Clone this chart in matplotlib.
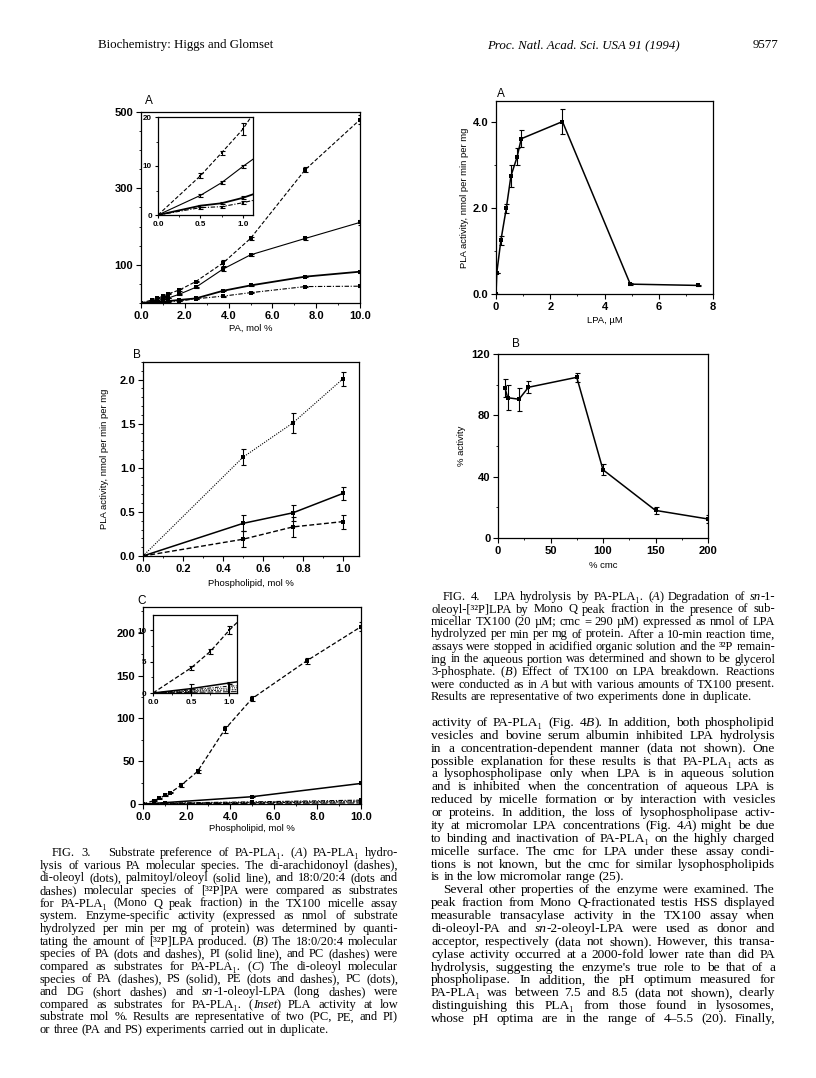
import matplotlib
matplotlib.use('Agg')
import matplotlib.pyplot as plt
from matplotlib.ticker import MultipleLocator

W, H = 816, 1078
SANS = ['Liberation Sans', 'DejaVu Sans']
SERIF = ['Liberation Serif', 'DejaVu Serif']
plt.rcParams['font.family'] = SANS

# ---- Fig 3A: PA molecular species (main + inset share the data)
a_x = [0, 0.5, 0.75, 1.0, 1.25, 1.75, 2.5, 3.75, 5.0, 7.5, 10.0]
a_arach = [0, 8, 12.7, 17.5, 24, 34, 56, 105, 169, 349, 480]
a_arach_err = [0, 0.5, 0.4, 1.2, 1, 1.5, 2, 8, 4, 6, 12]
a_oleoyl = [0, 4, 6.6, 9.9, 13, 23, 41, 89, 126, 169, 211]
a_oleoyl_err = [0, 0.3, 0.3, 0.4, 1, 1.5, 2, 5, 3, 3, 6]
a_palm = [0, 1.9, 2.4, 3.5, 5, 8, 12, 32, 46, 69, 82]
a_palm_err = [0, 0.2, 0.2, 0.3, 0.5, 0.5, 1, 1.5, 2, 2, 3]
a_1820 = [0, 1.5, 1.7, 2.5, 3.5, 5, 11, 18, 27, 43, 44]
a_1820_err = [0, 0.2, 0.2, 0.3, 0.5, 0.5, 1, 1, 1.5, 2, 2]

# ---- Fig 3B: phospholipid classes
b_x = [0, 0.5, 0.75, 1.0]
b_pa = [0, 1.12, 1.51, 2.01]
b_pa_err = [0, 0.09, 0.11, 0.08]
b_pi = [0, 0.37, 0.49, 0.71]
b_pi_err = [0, 0.09, 0.09, 0.07]
b_pc = [0, 0.19, 0.33, 0.39]
b_pc_err = [0, 0.09, 0.11, 0.08]

# ---- Fig 3C: di-oleoyl species
c_x = [0, 0.5, 0.75, 1.0, 1.25, 1.75, 2.5, 3.75, 5.0, 7.5, 10.0]
c_pa = [0, 4, 6.6, 10, 13, 22, 38, 87, 123, 167, 207]
c_pa_err = [0, 0.3, 0.4, 0.6, 0.5, 2, 1.5, 4, 3, 3, 5]
c_low_x = [0, 0.5, 1.0, 5.0, 10.0]
c_ps = [0, 0.7, 1.6, 8.5, 24]
c_ps_err = [0, 0.7, 0.2, 0.8, 1.2]
c_pe = [0, 0.5, 1.1, 2.5, 4.5]
c_pc = [0, 0.35, 0.8, 2.0, 3.5]
c_dg = [0, 0.25, 0.5, 1.5, 2.5]
c_lpa = [0, 0.1, 0.2, 0.8, 1.2]

# ---- Fig 4A: LPA concentration
f4a_x = [0, 0.03, 0.18, 0.38, 0.55, 0.78, 0.93, 2.45, 4.95, 7.45]
f4a_y = [0, 0.5, 1.25, 2.0, 2.75, 3.2, 3.62, 4.02, 0.23, 0.2]
f4a_err = [0, 0, 0.1, 0.1, 0.25, 0.2, 0.2, 0.3, 0.02, 0.02]

# ---- Fig 4B: TX100 % cmc
f4b_x = [6.6, 9.2, 20, 29, 75, 100, 150, 200]
f4b_y = [98, 91.5, 90.5, 98.3, 104.8, 44.5, 18, 12.4]
f4b_err = [6, 8, 7.5, 4, 3, 3.5, 2.5, 2.5]

header_left = "Biochemistry: Higgs and Glomset"
header_right = "Proc. Natl. Acad. Sci. USA 91 (1994)"
page_no = "9577"

cap3 = [
    "FIG. 3.   Substrate preference of PA-PLA₁. (*A*) PA-PLA₁ hydro-",
    "lysis of various PA molecular species. The di-arachidonoyl (dashes),",
    "di-oleoyl (dots), palmitoyl/oleoyl (solid line), and 18:0/20:4 (dots and",
    "dashes) molecular species of [³²P]PA were compared as substrates",
    "for PA-PLA₁ (Mono Q peak fraction) in the TX100 micelle assay",
    "system. Enzyme-specific activity (expressed as nmol of substrate",
    "hydrolyzed per min per mg of protein) was determined by quanti-",
    "tating the amount of [³²P]LPA produced. (*B*) The 18:0/20:4 molecular",
    "species of PA (dots and dashes), PI (solid line), and PC (dashes) were",
    "compared as substrates for PA-PLA₁. (*C*) The di-oleoyl molecular",
    "species of PA (dashes), PS (solid), PE (dots and dashes), PC (dots),",
    "and DG (short dashes) and *sn*-1-oleoyl-LPA (long dashes) were",
    "compared as substrates for PA-PLA₁. (*Inset*) PLA activity at low",
    "substrate mol %. Results are representative of two (PC, PE, and PI)",
    "or three (PA and PS) experiments carried out in duplicate.",
]
cap4 = [
    "FIG. 4.   LPA hydrolysis by PA-PLA₁. (*A*) Degradation of *sn*-1-",
    "oleoyl-[³²P]LPA by Mono Q peak fraction in the presence of sub-",
    "micellar TX100 (20 µM; cmc = 290 µM) expressed as nmol of LPA",
    "hydrolyzed per min per mg of protein. After a 10-min reaction time,",
    "assays were stopped in acidified organic solution and the ³²P remain-",
    "ing in the aqueous portion was determined and shown to be glycerol",
    "3-phosphate. (*B*) Effect of TX100 on LPA breakdown. Reactions",
    "were conducted as in *A* but with various amounts of TX100 present.",
    "Results are representative of two experiments done in duplicate.",
]
body = [
    "activity of PA-PLA₁ (Fig. 4*B*). In addition, both phospholipid",
    "vesicles and bovine serum albumin inhibited LPA hydrolysis",
    "in a concentration-dependent manner (data not shown). One",
    "possible explanation for these results is that PA-PLA₁ acts as",
    "a lysophospholipase only when LPA is in aqueous solution",
    "and is inhibited when the concentration of aqueous LPA is",
    "reduced by micelle formation or by interaction with vesicles",
    "or proteins. In addition, the loss of lysophospholipase activ-",
    "ity at micromolar LPA concentrations (Fig. 4*A*) might be due",
    "to binding and inactivation of PA-PLA₁ on the highly charged",
    "micelle surface. The cmc for LPA under these assay condi-",
    "tions is not known, but the cmc for similar lysophospholipids",
    "is in the low micromolar range (25).",
    "Several other properties of the enzyme were examined. The",
    "peak fraction from Mono Q-fractionated testis HSS displayed",
    "measurable transacylase activity in the TX100 assay when",
    "di-oleoyl-PA and *sn*-2-oleoyl-LPA were used as donor and",
    "acceptor, respectively (data not shown). However, this transa-",
    "cylase activity occurred at a 2000-fold lower rate than did PA",
    "hydrolysis, suggesting the enzyme's true role to be that of a",
    "phospholipase. In addition, the pH optimum measured for",
    "PA-PLA₁ was between 7.5 and 8.5 (data not shown), clearly",
    "distinguishing this PLA₁ from those found in lysosomes,",
    "whose pH optima are in the range of 4–5.5 (20). Finally,",
]

fig = plt.figure(figsize=(W / 100, H / 100), dpi=100)
renderer = fig.canvas.get_renderer()


def px_axes(l, t, r, b, z=1):
    return fig.add_axes([l / W, 1 - b / H, (r - l) / W, (b - t) / H], zorder=z)


def frame(ax, xt, xl, yt, yl, xminor, yminor, size=8, tlen=3.5):
    ax.set_xticks(xt, xl, fontsize=size, fontweight='bold')
    ax.set_yticks(yt, yl, fontsize=size, fontweight='bold')
    ax.xaxis.set_minor_locator(MultipleLocator(xminor))
    ax.yaxis.set_minor_locator(MultipleLocator(yminor))
    ax.tick_params(direction='out', length=tlen, width=0.8, pad=2, top=False, right=False)
    ax.tick_params(which='minor', direction='out', length=tlen * 0.5, width=0.6, top=False, right=False)
    for s in ax.spines.values():
        s.set_linewidth(0.9)


def curve(ax, x, y, err, ls, lw=0.8, ms=2.2):
    ax.plot(x, y, color='k', ls=ls, lw=lw, marker='s', ms=ms, mew=0)
    if err is not None:
        ax.errorbar(x, y, yerr=err, fmt='none', ecolor='k', elinewidth=0.8,
                    capsize=1.8, capthick=0.8)


DASH = (0, (3.5, 1.8))
DOT = (0, (1, 1.2))
DASHDOT = (0, (4, 1.5, 1, 1.5))
SHORT = (0, (1.8, 1.2))
LONG = (0, (6, 2))


def fmt(vals, spec):
    return [spec.format(v) for v in vals]


# ------------------------------------------------ Fig 3A
ax = px_axes(141, 112, 360, 303)
for y, e, ls, lw in [(a_arach, a_arach_err, DASH, 0.8), (a_oleoyl, a_oleoyl_err, '-', 0.8),
                     (a_palm, a_palm_err, '-', 1.3), (a_1820, a_1820_err, DASHDOT, 0.8)]:
    curve(ax, a_x, y, e, ls, lw)
ax.set_xlim(0, 10)
ax.set_ylim(0, 500)
frame(ax, [0, 2, 4, 6, 8, 10], fmt([0, 2, 4, 6, 8, 10], '{:.1f}'),
      [100, 300, 500], ['100', '300', '500'], 1, 50)
ax.set_xlabel('PA, mol %', fontsize=6.8, labelpad=2)
fig.text(145 / W, 1 - 104 / H, 'A', fontsize=8.5)

ins = px_axes(158, 117, 253, 215, z=3)
for y, e, ls, lw in [(a_arach, a_arach_err, DASH, 0.8), (a_oleoyl, a_oleoyl_err, '-', 0.8),
                     (a_palm, a_palm_err, '-', 1.3), (a_1820, a_1820_err, DASHDOT, 0.8)]:
    curve(ins, a_x, y, e, ls, lw, ms=1.8)
ins.set_xlim(0, 1.12)
ins.set_ylim(0, 20)
frame(ins, [0, 0.5, 1.0], ['0.0', '0.5', '1.0'], [0, 10, 20], ['0', '10', '20'],
      0.25, 5, size=5.8, tlen=2.5)

# ------------------------------------------------ Fig 3B
ax = px_axes(143, 362, 359, 556)
curve(ax, b_x, b_pa, b_pa_err, DOT, 0.8)
curve(ax, b_x, b_pi, b_pi_err, '-', 1.1)
curve(ax, b_x, b_pc, b_pc_err, DASH, 1.0)
ax.set_xlim(0, 1.08)
ax.set_ylim(0, 2.2)
frame(ax, [0, 0.2, 0.4, 0.6, 0.8, 1.0], fmt([0, 0.2, 0.4, 0.6, 0.8, 1.0], '{:.1f}'),
      [0, 0.5, 1.0, 1.5, 2.0], fmt([0, 0.5, 1.0, 1.5, 2.0], '{:.1f}'), 0.1, 0.1)
ax.set_xlabel('Phospholipid, mol %', fontsize=6.8, labelpad=4)
ax.set_ylabel('PLA activity, nmol per min per mg', fontsize=6.8, labelpad=8)
fig.text(133 / W, 1 - 358 / H, 'B', fontsize=8.5)

# ------------------------------------------------ Fig 3C
ax = px_axes(143, 607, 361, 804)
curve(ax, c_x, c_pa, c_pa_err, DASH, 0.9)
curve(ax, c_low_x, c_ps, c_ps_err, '-', 1.1)
curve(ax, c_low_x, c_pe, None, DASHDOT, 0.8)
curve(ax, c_low_x, c_pc, None, DOT, 0.8)
curve(ax, c_low_x, c_dg, None, SHORT, 0.8)
curve(ax, c_low_x, c_lpa, None, LONG, 0.8)
ax.set_xlim(0, 10)
ax.set_ylim(0, 230)
frame(ax, [0, 2, 4, 6, 8, 10], fmt([0, 2, 4, 6, 8, 10], '{:.1f}'),
      [0, 50, 100, 150, 200], ['0', '50', '100', '150', '200'], 1, 25)
ax.set_xlabel('Phospholipid, mol %', fontsize=6.8, labelpad=2)
fig.text(137 / W, 1 - 604 / H, 'C', fontsize=8.5)

ins = px_axes(153, 615, 237, 693, z=3)
curve(ins, c_x, c_pa, c_pa_err, DASH, 0.9, ms=1.8)
curve(ins, c_low_x, c_ps, c_ps_err, '-', 1.1, ms=1.8)
curve(ins, c_low_x, c_pe, None, DASHDOT, 0.7, ms=1.5)
curve(ins, c_low_x, c_pc, None, DOT, 0.7, ms=1.5)
curve(ins, c_low_x, c_dg, None, SHORT, 0.7, ms=1.5)
curve(ins, c_low_x, c_lpa, None, LONG, 0.7, ms=1.5)
ins.set_xlim(0, 1.1)
ins.set_ylim(0, 12.4)
frame(ins, [0, 0.5, 1.0], ['0.0', '0.5', '1.0'], [0, 5, 10], ['0', '5', '10'],
      0.25, 2.5, size=5.8, tlen=2.5)

# ------------------------------------------------ Fig 4A
ax = px_axes(496, 101, 713, 294)
curve(ax, f4a_x, f4a_y, f4a_err, '-', 1.1, ms=2.5)
ax.set_xlim(0, 8)
ax.set_ylim(0, 4.5)
frame(ax, [0, 2, 4, 6, 8], ['0', '2', '4', '6', '8'],
      [0, 2, 4], ['0.0', '2.0', '4.0'], 1, 1)
ax.set_xlabel('LPA, µM', fontsize=6.8, labelpad=3)
ax.set_ylabel('PLA activity, nmol per min per mg', fontsize=6.8, labelpad=3)
fig.text(497 / W, 1 - 97 / H, 'A', fontsize=8.5)

# ------------------------------------------------ Fig 4B
ax = px_axes(498, 354, 708, 538)
curve(ax, f4b_x, f4b_y, f4b_err, '-', 1.1, ms=2.2)
ax.set_xlim(0, 200)
ax.set_ylim(0, 120)
frame(ax, [0, 50, 100, 150, 200], ['0', '50', '100', '150', '200'],
      [0, 40, 80, 120], ['0', '40', '80', '120'], 25, 20)
ax.set_xlabel('% cmc', fontsize=6.8, labelpad=4)
ax.set_ylabel('% activity', fontsize=6.8, labelpad=4)
fig.text(512 / W, 1 - 347 / H, 'B', fontsize=8.5)


# ------------------------------------------------ page text
def pieces(word):
    parts = word.split('*')
    return [(p, 'italic' if i % 2 else 'normal') for i, p in enumerate(parts) if p]


def text_line(line, x0, x1, y, size, justify=True):
    words = []
    for w in line.split(' '):
        segs = []
        for s, st in pieces(w):
            t = fig.text(0, 0, s, fontsize=size, style=st, family=SERIF)
            segs.append((t, t.get_window_extent(renderer).width))
        words.append(segs)
    total = sum(wd for segs in words for _, wd in segs)
    gap = size * 0.25 * 100 / 72
    if justify and len(words) > 1:
        gap = (x1 - x0 - total) / (len(words) - 1)
    x = x0
    for segs in words:
        for t, wd in segs:
            t.set_position((x / W, 1 - y / H))
            x += wd
        x += gap


def block(lines, x0, x1, y0, step, size, last_full=(), indent=()):
    for i, line in enumerate(lines):
        just = i < len(lines) - 1 or i in last_full
        xs = x0 + (12 if i in indent else 0)
        text_line(line, xs, x1, y0 + i * step, size, justify=just)


fig.text(98 / W, 1 - 48 / H, header_left, fontsize=9.3, family=SERIF)
fig.text(487 / W, 1 - 48 / H, header_right, fontsize=9.3, family=SERIF, style='italic')
fig.text(778 / W, 1 - 48 / H, page_no, fontsize=9.3, family=SERIF, ha='right')

block(cap3, 40, 398, 856, 12.65, 9.0, indent=(0,))
block(cap4, 431, 775, 600, 12.5, 9.0, indent=(0,))
body_a = body[:13]
body_b = body[13:]
block(body_a, 431, 775, 726, 12.87, 9.6)
block(body_b, 431, 775, 726 + 13 * 12.87, 12.87, 9.6, last_full=(10,), indent=(0,))

fig.savefig('out.png', dpi=100, facecolor='white')
